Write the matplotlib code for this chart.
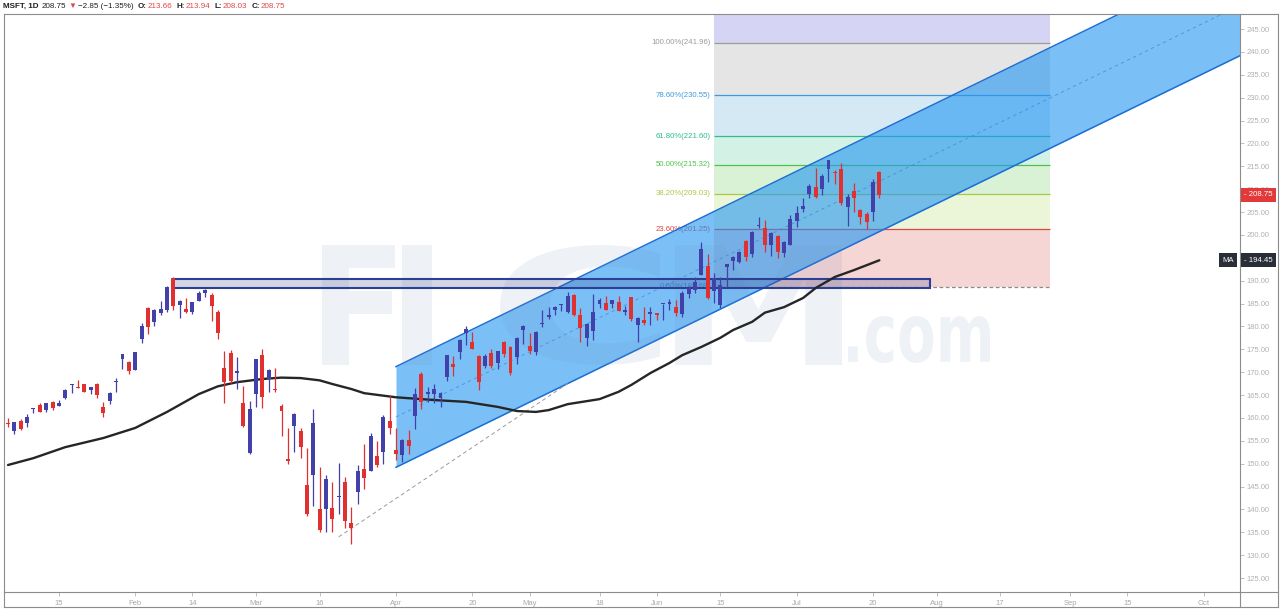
import numpy as np
import pandas as pd
import matplotlib
matplotlib.use("Agg")
import matplotlib.pyplot as plt
from matplotlib.patches import Rectangle, PathPatch
from matplotlib.textpath import TextPath
from matplotlib.font_manager import FontProperties
from matplotlib.transforms import Affine2D, IdentityTransform, blended_transform_factory
from matplotlib.lines import Line2D

plt.rcParams['font.family'] = ['Liberation Sans', 'DejaVu Sans']

# MSFT daily bars, Jan 2 - Jul 21 2020 (open, high, low, close)
opens = [158.78, 158.90, 157.08, 159.32, 158.93, 161.84, 162.82, 161.76, 163.39, 162.62, 164.35, 167.42, 166.68, 167.40, 166.19, 167.51, 161.15, 163.78, 167.84, 174.05, 172.21,
         170.43, 177.14, 184.03, 180.97, 182.85, 183.58, 190.65, 185.58, 183.08, 183.25, 185.61, 188.06, 186.95, 183.17, 167.77, 174.20, 169.71, 163.32, 152.41,
         165.31, 173.80, 168.49, 166.05, 162.61, 151.00, 158.16, 157.13, 145.30, 147.50, 140.00, 140.00, 138.00, 142.77, 146.00, 137.01, 143.75, 148.91, 148.40, 151.75, 152.44, 159.40,
         153.00, 151.86, 155.10, 160.32, 169.59, 165.67, 166.36, 164.35, 169.00, 171.20, 174.30, 179.50, 176.63, 173.50, 171.39, 174.11, 172.06, 176.59, 175.59, 173.22, 180.00,
         175.80, 174.49, 180.62, 182.08, 184.17, 184.98, 183.15, 186.80, 182.55, 177.54, 179.06, 185.75, 185.03, 184.81, 185.40, 183.19, 186.34, 180.20, 180.74, 182.73,
         182.54, 184.82, 184.82, 184.30, 182.62, 187.14, 188.00, 191.13, 193.13, 190.54, 184.58, 192.89, 195.15, 194.00, 198.59, 195.79, 202.09, 201.60, 197.80, 199.73, 196.00, 197.88,
         203.14, 205.68, 208.83, 210.45, 210.07, 216.33, 213.62, 214.48, 206.13, 209.56, 205.40, 204.47, 205.00, 213.66]
highs = [160.73, 159.95, 159.10, 159.67, 160.80, 162.22, 163.22, 163.31, 163.60, 163.94, 166.24, 167.47, 168.19, 167.49, 166.80, 167.53, 163.38, 165.76, 168.75, 174.05, 172.40,
         174.50, 180.64, 184.20, 183.82, 185.63, 188.84, 190.70, 185.85, 186.23, 185.41, 187.70, 188.18, 187.25, 183.50, 174.55, 174.84, 173.26, 167.03, 163.71,
         172.92, 175.00, 170.70, 170.87, 163.11, 157.75, 161.03, 157.70, 153.47, 161.91, 149.35, 147.50, 146.00, 150.15, 147.10, 140.57, 149.60, 154.33, 156.66, 154.89, 160.60, 164.78,
         157.75, 155.48, 157.38, 166.50, 170.00, 166.67, 167.37, 165.57, 173.75, 173.57, 177.28, 180.00, 178.75, 173.67, 174.00, 175.06, 174.56, 176.90, 175.67, 177.68, 180.40,
         178.64, 179.00, 183.65, 184.20, 184.55, 185.00, 187.51, 187.04, 184.05, 180.69, 187.06, 186.20, 186.60, 185.85, 186.67, 184.46, 186.50, 181.99, 184.15, 184.27,
         183.00, 185.00, 185.94, 185.84, 187.73, 188.90, 190.89, 198.52, 195.76, 191.72, 190.82, 193.57, 195.32, 196.49, 198.84, 200.76, 203.95, 203.25, 200.61, 199.89, 198.75, 204.40,
         206.35, 208.04, 211.13, 214.67, 213.26, 216.38, 214.08, 215.80, 208.85, 211.33, 205.70, 205.04, 212.30, 213.94]
lows = [158.33, 158.06, 156.51, 157.32, 157.95, 161.03, 161.18, 161.26, 161.72, 162.57, 164.03, 165.43, 166.43, 165.68, 165.27, 164.45, 160.20, 163.07, 165.69, 170.79, 169.58,
        170.40, 176.31, 178.41, 180.06, 182.48, 183.25, 183.50, 181.85, 182.87, 182.65, 185.50, 186.47, 181.10, 177.25, 163.23, 167.65, 166.28, 157.98, 152.00,
        162.31, 162.26, 165.62, 165.69, 156.00, 150.00, 152.58, 151.15, 138.58, 140.73, 135.00, 135.00, 135.02, 139.00, 135.86, 132.52, 141.27, 144.44, 148.37, 149.20, 150.01, 156.56,
        150.82, 150.36, 152.19, 157.58, 162.00, 163.50, 163.33, 162.30, 168.00, 169.24, 172.90, 175.87, 174.99, 166.11, 170.82, 170.91, 170.71, 173.30, 169.39, 171.88, 176.23,
        174.01, 173.80, 179.90, 181.63, 182.58, 183.36, 182.85, 182.30, 176.54, 175.68, 177.00, 183.96, 183.49, 183.94, 183.29, 182.54, 181.10, 176.60, 180.38, 180.41,
        181.46, 181.35, 183.58, 182.30, 182.01, 186.20, 187.37, 191.13, 186.07, 185.18, 184.01, 188.59, 192.42, 193.75, 194.28, 195.23, 201.43, 196.36, 195.47, 194.88, 195.23, 197.74,
        201.77, 205.00, 208.09, 207.99, 208.69, 211.47, 211.08, 206.50, 202.03, 205.03, 202.31, 201.39, 203.01, 208.03]
closes = [160.62, 158.62, 159.03, 157.58, 160.09, 162.09, 161.34, 163.28, 162.13, 163.18, 166.17, 167.10, 166.50, 165.70, 166.72, 165.04, 162.28, 165.46, 168.04, 172.78, 170.23,
          174.38, 180.12, 179.90, 183.63, 183.89, 188.70, 184.44, 184.71, 183.71, 185.35, 187.23, 187.28, 184.42, 178.59, 170.89, 168.07, 170.17, 158.18, 162.01,
          172.79, 164.51, 170.55, 166.27, 161.57, 150.62, 160.92, 153.63, 139.06, 158.83, 135.42, 146.57, 140.40, 142.71, 137.35, 135.98, 148.34, 146.92, 156.11, 149.70, 160.23, 157.71,
          152.11, 155.26, 153.83, 165.27, 163.49, 165.13, 165.14, 165.51, 173.70, 171.88, 177.04, 178.60, 175.06, 167.82, 173.52, 171.42, 174.55, 174.05, 169.81, 177.43, 179.21,
          174.57, 178.84, 180.76, 182.54, 183.60, 184.68, 186.74, 182.51, 179.75, 180.53, 183.16, 184.91, 183.63, 185.66, 183.43, 183.51, 181.57, 181.81, 181.40, 183.25,
          182.83, 184.91, 185.36, 182.92, 187.20, 188.36, 189.80, 196.84, 186.27, 187.74, 188.94, 193.57, 194.24, 196.32, 195.15, 200.57, 201.91, 197.84, 200.34, 196.33, 198.44, 203.51,
          204.70, 206.26, 210.70, 208.25, 212.83, 214.32, 213.67, 207.07, 208.35, 208.04, 203.92, 202.88, 211.60, 208.75]

# moving average (bar number, value)
ma_bar = [0, 4, 9, 15, 20, 25, 30, 33, 36, 40, 43, 46, 49, 51, 54, 56, 61, 67, 72, 77, 80, 83, 85, 88,
          93, 96, 98, 101, 104, 106, 109, 112, 114, 117, 119, 122, 125, 127, 130, 133, 137]
ma_val = [149.7, 151.2, 153.6, 155.6, 157.8, 161.3, 165.2, 166.9, 167.8, 168.5, 168.8, 168.7, 168.2, 167.4, 166.3, 165.4, 164.5, 163.9, 163.5, 162.4, 161.5, 161.3, 161.7, 163.0,
          164.1, 165.7, 167.2, 169.8, 172.0, 173.7, 175.5, 177.5, 179.2, 181.0, 183.0, 184.2, 186.2, 188.4, 190.8, 192.3, 194.45]

# fibonacci retracement
fib_prices = [188.68, 201.25, 209.03, 215.32, 221.60, 230.55, 241.96, 274.89]
fib_labels = ["0.00%(188.68)", "23.60%(201.25)", "38.20%(209.03)", "50.00%(215.32)",
              "61.80%(221.60)", "78.60%(230.55)", "100.00%(241.96)"]
fib_bar0, fib_bar1 = 111.0, 163.8
band_colors = ["#f6d5d5", "#ebf5d7", "#d9f1d5", "#d4f1e6", "#d5e9f5", "#e5e5e5", "#d6d4f5"]
line_colors = ["#8c8c8c", "#e04646", "#a9c94a", "#4cc44c", "#2dbd8d", "#3d9be0", "#9a9a9a"]

# parallel channel and the other drawings
ch_bar0, ch_bar1 = 61, 200
ch_top0, ch_bot0, ch_slope = 171.2, 149.2, 0.678
trend_bar = [52, 88]
trend_val = [134.0, 167.5]
zone_bar = [26, 145]
zone_val = [188.35, 190.45]

holidays = ["2020-01-01", "2020-01-20", "2020-02-17", "2020-04-10", "2020-05-25", "2020-07-03", "2020-09-07"]
cal = pd.bdate_range("2020-01-02", "2020-10-30", freq="C", holidays=holidays)
pos = {d.strftime("%Y-%m-%d"): i - 1 for i, d in enumerate(cal)}

tick_dates = ["2020-01-15", "2020-02-03", "2020-02-14", "2020-03-02", "2020-03-16", "2020-04-01",
              "2020-04-20", "2020-05-01", "2020-05-18", "2020-06-01", "2020-06-15", "2020-07-01",
              "2020-07-20", "2020-08-03", "2020-08-17", "2020-09-01", "2020-09-15", "2020-10-01"]
tick_labels = ["15", "Feb", "14", "Mar", "16", "Apr", "20", "May", "18", "Jun", "15", "Jul",
               "20", "Aug", "17", "Sep", "15", "Oct"]

W, H = 1280, 611
fig = plt.figure(figsize=(W / 100, H / 100), dpi=100)
ax = fig.add_axes([4 / W, 1 - 592 / H, (1240 - 4) / W, (592 - 14) / H])
ax.set_xlim(-0.63, 193.7)
ax.set_ylim(121.94, 248.28)

o = np.array(opens); h = np.array(highs); l = np.array(lows); c = np.array(closes)
bx = np.arange(len(o)) - 1
prev = np.r_[o[0], c[:-1]]
up_col, dn_col = "#4141a9", "#e0302f"
cols = np.where(c >= prev, up_col, dn_col)

# fib bands, lines, labels
for i in range(7):
    ax.fill_between([fib_bar0, fib_bar1], fib_prices[i], fib_prices[i + 1], color=band_colors[i], lw=0, zorder=1)
    ax.hlines(fib_prices[i], fib_bar0, fib_bar1, color=line_colors[i], lw=0.9,
              linestyles=(0, (3, 2)) if i == 0 else "solid", zorder=1.5)
    ax.text(fib_bar0 - 0.5, fib_prices[i], fib_labels[i], ha="right", va="center",
            color=line_colors[i], fontsize=5.6, zorder=1.6)

# channel
cx = np.array([ch_bar0, ch_bar1], dtype=float)
top = ch_top0 + ch_slope * (cx - ch_bar0)
bot = ch_bot0 + ch_slope * (cx - ch_bar0)
ax.fill_between(cx, bot, top, color="#2196f3", alpha=0.6, lw=0, zorder=2)
ax.plot(cx, top, color="#1e6fd4", lw=1.1, zorder=2.1)
ax.plot(cx, bot, color="#1e6fd4", lw=1.1, zorder=2.1)
ax.plot(cx, (top + bot) / 2, color="#2f80d6", lw=0.6, ls=(0, (4, 4)), alpha=0.7, zorder=2.1)
ax.plot(trend_bar, trend_val, color="#9a9a9a", lw=0.7, ls=(0, (4, 3)), zorder=2.2)

# watermark
def stamp(text, x0, x1, y0, y1):
    tp = TextPath((0, 0), text, size=100, prop=FontProperties(family="DejaVu Sans", weight="bold"))
    bb = tp.get_extents()
    tr = (Affine2D().translate(-bb.x0, -bb.y0)
          .scale((x1 - x0) / bb.width, (y1 - y0) / bb.height)
          .translate(x0, H - y1))
    ax.add_patch(PathPatch(tr.transform_path(tp), fc="#6a8bb0", ec="none", alpha=0.11,
                           transform=IdentityTransform(), zorder=2.5))

stamp("F", 322, 395, 245, 365)
stamp("I", 402, 432, 245, 365)
stamp("C", 500, 660, 245, 365)
stamp("M", 675, 842, 245, 365)
stamp(".com", 848, 990, 316, 363)

# support zone
ax.add_patch(Rectangle((zone_bar[0], zone_val[0]), zone_bar[1] - zone_bar[0], zone_val[1] - zone_val[0],
                       fc=(0.15, 0.22, 0.5, 0.2), ec="#2c3f96", lw=1.5, zorder=3))

# moving average
ax.plot(ma_bar, ma_val, color="#262626", lw=1.7, zorder=3.5, solid_capstyle="round")

# candles
ax.vlines(bx, l, h, colors=cols, lw=0.9, zorder=4)
ax.bar(bx, np.maximum(np.abs(c - o), 0.22), bottom=np.minimum(o, c), width=0.62,
       color=cols, lw=0, zorder=4.1)

# axes styling; 195.00 sits under the MA price box, so its label stays blank
ax.yaxis.tick_right()
yt = np.arange(125, 246, 5)
ax.set_yticks(yt)
ax.set_yticklabels(["" if v == 195 else f"{v:.2f}" for v in yt])
ax.set_xticks([pos[d] for d in tick_dates])
ax.set_xticklabels(tick_labels)
ax.tick_params(axis="y", colors="#b4b4b4", labelcolor="#b0b0b0", labelsize=5.5, length=3, width=0.6, pad=2)
ax.tick_params(axis="x", colors="#b4b4b4", labelcolor="#a8a8a8", labelsize=5.5, length=3, width=0.6, pad=3)
for sp in ax.spines.values():
    sp.set_color("#8c8c8c")
    sp.set_linewidth(0.8)

# last price and MA labels on the price scale
tr = blended_transform_factory(ax.transAxes, ax.transData)
ax.text(1.0035, 208.75, "- 208.75", transform=tr, ha="left", va="center", fontsize=5.6, color="white",
        bbox=dict(boxstyle="square,pad=0.45", fc="#e23a3a", ec="none"), zorder=10, clip_on=False)
ax.text(1.0035, 194.45, "- 194.45", transform=tr, ha="left", va="center", fontsize=5.6, color="white",
        bbox=dict(boxstyle="square,pad=0.45", fc="#2a2e39", ec="none"), zorder=10, clip_on=False)
ax.text(0.9948, 194.45, "MA", transform=tr, ha="right", va="center", fontsize=5.6, color="white",
        bbox=dict(boxstyle="square,pad=0.45", fc="#2a2e39", ec="none"), zorder=10, clip_on=False)

# outer frame
def frame(x0, y0, x1, y1):
    fig.add_artist(Line2D([x0 / W, x1 / W], [1 - y0 / H, 1 - y1 / H], transform=fig.transFigure,
                          color="#8c8c8c", lw=0.8))

frame(1240, 14, 1278, 14)
frame(1278, 14, 1278, 607)
frame(4, 607, 1278, 607)
frame(4, 592, 4, 607)
frame(1240, 592, 1278, 592)
frame(1240, 592, 1240, 607)

# header, laid out piece by piece
dark, red = "#1e1e1e", "#e04848"
header = [("MSFT, 1D", dark, "bold", 3), ("208.75", dark, "normal", 2), ("▼", red, "normal", 2),
          ("−2.85 (−1.35%)", dark, "normal", 4), ("O:", dark, "bold", 1), ("213.66", red, "normal", 4),
          ("H:", dark, "bold", 1), ("213.94", red, "normal", 4), ("L:", dark, "bold", 1),
          ("208.03", red, "normal", 4), ("C:", dark, "bold", 1), ("208.75", red, "normal", 0)]
rend = fig.canvas.get_renderer()
x = 3
for s, col, wt, gap in header:
    t = fig.text(x / W, 1 - 6.5 / H, s, ha="left", va="center", fontsize=5.8, color=col, weight=wt)
    x += t.get_window_extent(renderer=rend).width + gap

fig.savefig("out.png", dpi=100)
